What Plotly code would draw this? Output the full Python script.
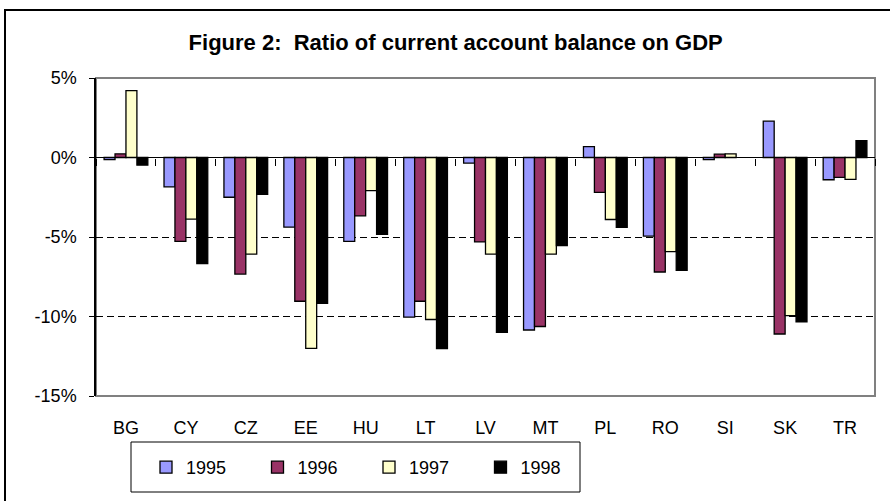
import plotly.graph_objects as go

countries = ["BG", "CY", "CZ", "EE", "HU", "LT", "LV", "MT", "PL", "RO", "SI", "SK", "TR"]
y1995 = [-0.13, -1.85, -2.5, -4.38, -5.27, -10.04, -0.35, -10.85, 0.69, -4.94, -0.13, 2.29, -1.4]
y1996 = [0.23, -5.27, -7.33, -9.04, -3.67, -9.04, -5.31, -10.63, -2.19, -7.2, 0.21, -11.1, -1.25]
y1997 = [4.2, -3.88, -6.08, -12.0, -2.08, -10.19, -6.08, -6.08, -3.9, -5.92, 0.23, -9.94, -1.38]
y1998 = [-0.48, -6.67, -2.31, -9.17, -4.83, -12.02, -11.0, -5.54, -4.4, -7.1, None, -10.33, 1.06]
years = ["1995", "1996", "1997", "1998"]
colors = ["#9999FF", "#993366", "#FFFFCC", "#000000"]
ytickvals = [5, 0, -5, -10, -15]
yticktext = ["5%", "0%", "-5%", "-10%", "-15%"]
y_min, y_max = -15, 5

FONT = "Liberation Sans, Arial, sans-serif"

fig = go.Figure()
for name, vals, col in zip(years, [y1995, y1996, y1997, y1998], colors):
    fig.add_trace(go.Bar(
        x=countries, y=vals, name=name,
        marker=dict(color=col, line=dict(color="black", width=1.3)),
    ))

ML, MR, MT_, MB = 96, 15, 78, 105
W, H = 890, 501
pw, ph = W - ML - MR, H - MT_ - MB
zero_frac = (0 - y_min) / (y_max - y_min)
zero_px = MT_ + ph * (1 - zero_frac)

def px_x(p):
    return (p - ML) / pw

def px_y(p):
    return (MT_ + ph - p) / ph

fig.update_layout(
    width=W, height=H,
    margin=dict(l=ML, r=MR, t=MT_, b=MB, autoexpand=False),
    paper_bgcolor="white", plot_bgcolor="white",
    font=dict(family=FONT, size=18, color="black"),
    barmode="group", bargap=0.27, bargroupgap=0,
    title=dict(text="<b>Figure 2:  Ratio of current account balance on GDP</b>",
               x=0.512, xanchor="center", y=1 - 42 / H, yanchor="middle",
               font=dict(family=FONT, size=22, color="black")),
    legend=dict(orientation="h", x=px_x(146), xanchor="left",
                y=px_y(449), yanchor="top",
                borderwidth=0, bgcolor="rgba(0,0,0,0)",
                entrywidth=66.5, entrywidthmode="pixels",
                font=dict(family=FONT, size=18)),
    xaxis=dict(type="category", range=[-0.5, 12.5], showgrid=False, showline=False,
               anchor="free", position=zero_frac,
               tickson="boundaries", ticks="outside", ticklen=7, tickwidth=1,
               tickcolor="black",
               ticklabelstandoff=round(MT_ + ph - zero_px) + 19,
               tickfont=dict(size=18)),
    yaxis=dict(range=[y_min, y_max], tickvals=ytickvals, ticktext=yticktext,
               showgrid=True, gridcolor="black", gridwidth=1, griddash="7px,4px",
               zeroline=True, zerolinecolor="black", zerolinewidth=1.3,
               showline=True, linecolor="black", linewidth=1.5,
               ticks="outside", ticklen=5, tickcolor="black",
               ticklabelstandoff=9, tickfont=dict(size=18)),
    shapes=[
        dict(type="rect", xref="paper", yref="paper", x0=0, x1=1, y0=0, y1=1,
             line=dict(color="#808080", width=2), layer="between"),
        dict(type="rect", xref="paper", yref="paper",
             x0=px_x(131), x1=px_x(580), y0=px_y(492), y1=px_y(442),
             line=dict(color="black", width=1), layer="above"),
        dict(type="rect", xref="paper", yref="paper",
             x0=px_x(5), x1=px_x(W + 20), y0=px_y(H + 20), y1=px_y(10),
             line=dict(color="black", width=2), layer="above"),
    ],
)

fig.write_html("out.html", config={"displayModeBar": False},
               post_script="document.body.style.margin='0';")
